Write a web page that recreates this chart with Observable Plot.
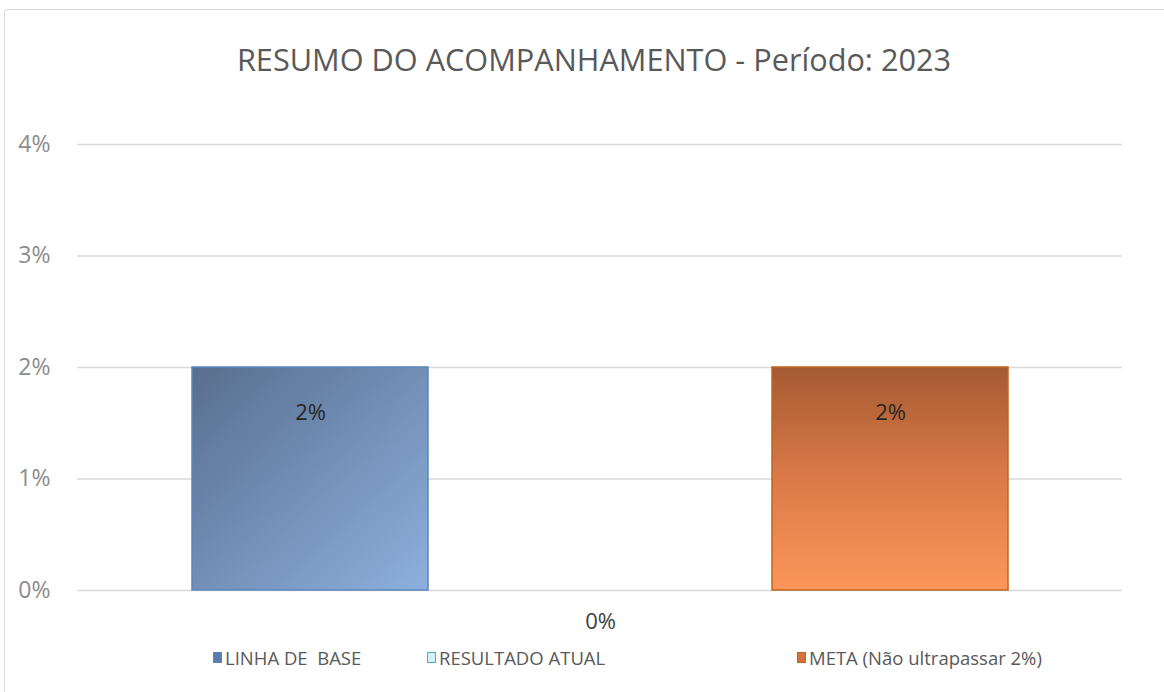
<!DOCTYPE html>
<html>
<head>
<meta charset="utf-8">
<script src="https://cdn.jsdelivr.net/npm/d3@7"></script>
<script src="https://cdn.jsdelivr.net/npm/@observablehq/plot@0.6"></script>
<style>
  html, body { margin: 0; padding: 0; background: #fff; }
  body { width: 1164px; height: 692px; position: relative; overflow: hidden; font-family: "Open Sans", sans-serif; }
  #frame { position: absolute; left: 4px; top: 9px; width: 1180px; height: 700px; border: 1.5px solid #d9d9d9; border-radius: 3px; box-sizing: border-box; }
  #title { position: absolute; left: 0; width: 1188px; top: 38px; text-align: center; font-size: 30.7px; color: #595959; white-space: nowrap; }
  #chart { position: absolute; left: 0; top: 0; }
  .leg { position: absolute; top: 645px; font-size: 18.5px; color: #595959; white-space: nowrap; display: flex; align-items: center; }
  .sw { display: inline-block; width: 9px; height: 11px; margin-right: 3px; box-sizing: border-box; }
</style>
</head>
<body>
<div id="frame"></div>
<div id="title">RESUMO DO ACOMPANHAMENTO - Período: 2023</div>
<div id="chart"></div>
<div id="legend"></div>
<script>
const series = ["LINHA DE  BASE", "RESULTADO ATUAL", "META (Não ultrapassar 2%)"];
const values = [0.02, 0, 0.02];
const yTicks = [0, 0.01, 0.02, 0.03, 0.04];
const fills = ["url(#gBlue)", "url(#gCyan)", "url(#gOrange)"];
const strokes = ["#5b86bd", "#4bacc6", "#c0651f"];
const swatchFill = ["#5a7aa8", "#d6f0f7", "#d8703a"];

const data = series.map((s, i) => ({series: s, value: values[i]}));
const pct = d => d3.format(".0%")(d);

const defs = () => {
  const g = d3.create("svg:defs");
  const b = g.append("linearGradient").attr("id", "gBlue").attr("x1", "0").attr("y1", "0").attr("x2", "1").attr("y2", "1");
  b.append("stop").attr("offset", "0").attr("stop-color", "#586e8e");
  b.append("stop").attr("offset", "1").attr("stop-color", "#8db0de");
  const o = g.append("linearGradient").attr("id", "gOrange").attr("x1", "0").attr("y1", "0").attr("x2", "0").attr("y2", "1");
  o.append("stop").attr("offset", "0").attr("stop-color", "#a55a32");
  o.append("stop").attr("offset", "0.5").attr("stop-color", "#db7a48");
  o.append("stop").attr("offset", "1").attr("stop-color", "#fc9659");
  const c = g.append("linearGradient").attr("id", "gCyan").attr("x1", "0").attr("y1", "0").attr("x2", "0").attr("y2", "1");
  c.append("stop").attr("offset", "0").attr("stop-color", "#9fd6e6");
  c.append("stop").attr("offset", "1").attr("stop-color", "#d6f0f7");
  return g.node();
};

const plot = Plot.plot({
  width: 1164,
  height: 692,
  marginLeft: 77,
  marginRight: 42,
  marginTop: 144,
  marginBottom: 102,
  style: {background: "transparent", fontFamily: "Open Sans, sans-serif"},
  x: {type: "band", domain: series, range: [165, 1035], paddingInner: 0.186, paddingOuter: 0.093, axis: null},
  y: {domain: [0, 0.04], ticks: yTicks, tickFormat: pct, tickSize: 0, tickPadding: 27, label: null},
  color: {type: "ordinal", domain: series, range: fills},
  marks: [
    defs,
    Plot.ruleY(yTicks, {stroke: "#d9d9d9", strokeWidth: 1.5}),
    Plot.barY(data, {x: "series", y: "value", fill: "series", stroke: (d, i) => strokes[i], strokeWidth: 1.5}),
    Plot.text(data.filter(d => d.value > 0), {x: "series", y: "value", text: d => pct(d.value), dy: 45, fontSize: 22, fill: "#262626"}),
    Plot.text(data.filter(d => d.value === 0), {x: "series", y: "value", text: d => pct(d.value), dy: 31, fontSize: 22, fill: "#404040"}),
    Plot.axisY({ticks: yTicks, tickFormat: pct, tickSize: 0, tickPadding: 27, fontSize: 23, fill: "#8c8c8c", label: null})
  ]
});
document.getElementById("chart").appendChild(plot);

const legX = [213, 427, 797];
const legend = document.getElementById("legend");
series.forEach((s, i) => {
  const d = document.createElement("div");
  d.className = "leg";
  d.style.left = legX[i] + "px";
  const sw = document.createElement("span");
  sw.className = "sw";
  sw.style.background = swatchFill[i];
  sw.style.border = "1px solid " + strokes[i];
  d.appendChild(sw);
  const t = document.createElement("span");
  t.textContent = s;
  t.style.whiteSpace = "pre";
  d.appendChild(t);
  legend.appendChild(d);
});
</script>
</body>
</html>
